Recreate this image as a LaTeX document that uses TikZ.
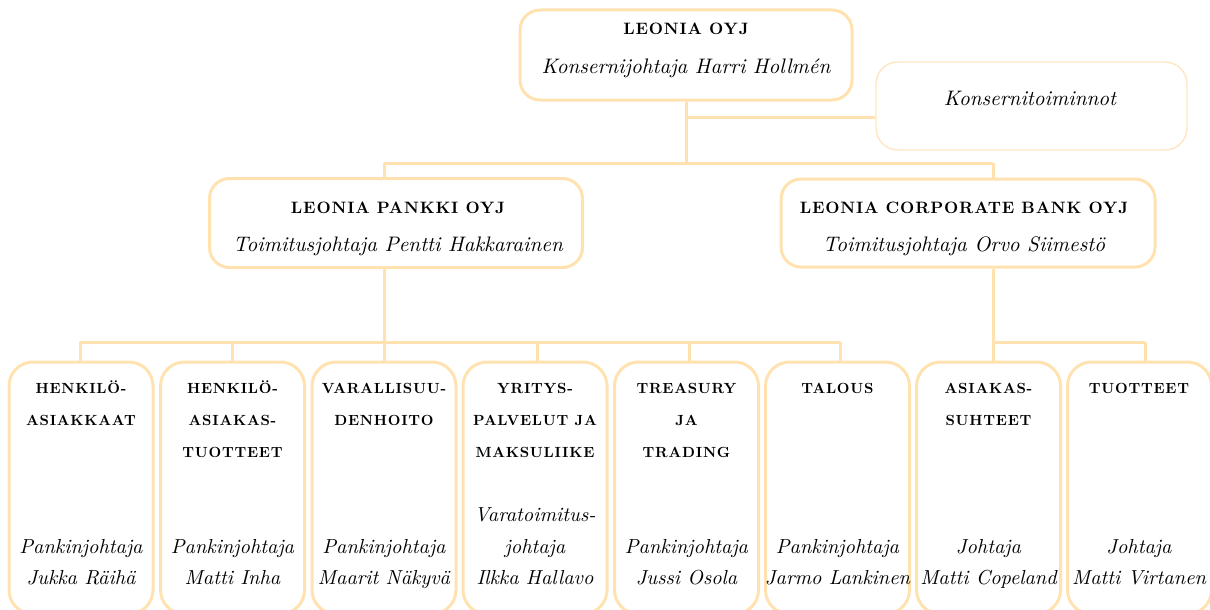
\documentclass[tikz,border=0pt]{standalone}
\usepackage{fontspec}
\setmainfont{lmroman10-regular.otf}[BoldFont=lmroman10-bold.otf,ItalicFont=lmroman10-italic.otf]
\newfontfamily\ttlfont{lmroman10-bold.otf}[LetterSpace=5]
\newfontfamily\nmfont{lmroman10-italic.otf}
\definecolor{peach}{RGB}{255,226,176}
\definecolor{peachlight}{RGB}{255,230,194}
\tikzset{
  conn/.style={draw=peach,line width=3pt},
  topbox/.style={draw=peach,line width=3pt,rounded corners=20pt,inner sep=0pt},
  sidebox/.style={draw=peachlight,line width=1.4pt,rounded corners=22pt,inner sep=0pt},
  botbox/.style={draw=peach,line width=3pt,rounded corners=24pt,inner sep=0pt,minimum width=144pt,minimum height=252pt},
  bigttl/.style={anchor=base,inner sep=0pt,font=\ttlfont\fontsize{16.5}{18}\selectfont},
  bigname/.style={anchor=base,inner sep=0pt,font=\nmfont\fontsize{21}{23}\selectfont},
  ttl/.style={anchor=base,inner sep=0pt,font=\ttlfont\fontsize{14.7}{16}\selectfont},
  nm/.style={anchor=base,inner sep=0pt,font=\nmfont\fontsize{20.3}{22}\selectfont}
}
\begin{document}
\begin{tikzpicture}[x=1pt,y=-1pt]
\useasboundingbox (0,0) rectangle (1210,610);
% top level
\node[topbox,minimum width=332pt,minimum height=90pt] (top) at (686,55) {};
\node[bigttl] (topt) at (686,35) {LEONIA OYJ};
\node[bigname] (topn) at (686,74) {Konsernijohtaja Harri Hollmén};
\node[sidebox,minimum width=311pt,minimum height=88pt] (konz) at (1031.5,106) {};
\node[bigname] (konzn) at (1030,105) {Konsernitoiminnot};
% second level
\node[topbox,minimum width=373pt,minimum height=89pt] (pankki) at (396,223) {};
\node[bigttl] (pankkit) at (398,213) {LEONIA PANKKI OYJ};
\node[bigname] (pankkin) at (398,251) {Toimitusjohtaja Pentti Hakkarainen};
\node[topbox,minimum width=374pt,minimum height=88pt] (corp) at (968,223) {};
\node[bigttl] (corpt) at (964,213) {LEONIA CORPORATE BANK OYJ};
\node[bigname] (corpn) at (964,251) {Toimitusjohtaja Orvo Siimestö};
% bottom level
\node[botbox] (b1) at (81,488) {};
\node[botbox] (b2) at (232.5,488) {};
\node[botbox] (b3) at (384,488) {};
\node[botbox] (b4) at (535,488) {};
\node[botbox] (b5) at (686.5,488) {};
\node[botbox] (b6) at (837.5,488) {};
\node[botbox] (b7) at (988.5,488) {};
\node[botbox] (b8) at (1139.5,488) {};
\node[ttl] (b1t1) at (81,393) {HENKILÖ-};
\node[ttl] (b1t2) at (81,425) {ASIAKKAAT};
\node[nm] (b1n1) at (81,553) {Pankinjohtaja};
\node[nm] (b1n2) at (81,584) {Jukka Räihä};
\node[ttl] (b2t1) at (232.5,393) {HENKILÖ-};
\node[ttl] (b2t2) at (232.5,425) {ASIAKAS-};
\node[ttl] (b2t3) at (232.5,457) {TUOTTEET};
\node[nm] (b2n1) at (232.5,553) {Pankinjohtaja};
\node[nm] (b2n2) at (232.5,584) {Matti Inha};
\node[ttl] (b3t1) at (384,393) {VARALLISUU-};
\node[ttl] (b3t2) at (384,425) {DENHOITO};
\node[nm] (b3n1) at (384,553) {Pankinjohtaja};
\node[nm] (b3n2) at (384,584) {Maarit Näkyvä};
\node[ttl] (b4t1) at (535,393) {YRITYS-};
\node[ttl] (b4t2) at (535,425) {PALVELUT JA};
\node[ttl] (b4t3) at (535,457) {MAKSULIIKE};
\node[nm] (b4n1) at (535,521) {Varatoimitus-};
\node[nm] (b4n2) at (535,553) {johtaja};
\node[nm] (b4n3) at (535,584) {Ilkka Hallavo};
\node[ttl] (b5t1) at (686.5,393) {TREASURY};
\node[ttl] (b5t2) at (686.5,425) {JA};
\node[ttl] (b5t3) at (686.5,457) {TRADING};
\node[nm] (b5n1) at (686.5,553) {Pankinjohtaja};
\node[nm] (b5n2) at (686.5,584) {Jussi Osola};
\node[ttl] (b6t1) at (837.5,393) {TALOUS};
\node[nm] (b6n1) at (837.5,553) {Pankinjohtaja};
\node[nm] (b6n2) at (837.5,584) {Jarmo Lankinen};
\node[ttl] (b7t1) at (988.5,393) {ASIAKAS-};
\node[ttl] (b7t2) at (988.5,425) {SUHTEET};
\node[nm] (b7n1) at (988.5,553) {Johtaja};
\node[nm] (b7n2) at (988.5,584) {Matti Copeland};
\node[ttl] (b8t1) at (1139,393) {TUOTTEET};
\node[nm] (b8n1) at (1139,553) {Johtaja};
\node[nm] (b8n2) at (1139,584) {Matti Virtanen};
% junction coordinates
\coordinate (j0) at (686,163);
\coordinate (jk) at (686,117);
\coordinate (jp) at (384,163);
\coordinate (jc) at (993,163);
\coordinate (kp) at (384,342);
\coordinate (kc) at (993,342);
\coordinate (x1) at (80,342);
\coordinate (x2) at (232,342);
\coordinate (x4) at (537,342);
\coordinate (x5) at (689,342);
\coordinate (x6) at (840,342);
\coordinate (x8) at (1145,342);
% connectors
\draw[conn] (top.south) -- (j0);
\draw[conn] (jk) -- (jk -| konz.west);
\draw[conn] (jp) -- (jc);
\draw[conn] (jp) -- (jp |- pankki.north);
\draw[conn] (jc) -- (jc |- corp.north);
\draw[conn] (kp |- pankki.south) -- (kp);
\draw[conn] (kc |- corp.south) -- (kc);
\draw[conn] (x1) -- (x6);
\draw[conn] (kc) -- (x8);
\draw[conn] (x1) -- (x1 |- b1.north);
\draw[conn] (x2) -- (x2 |- b2.north);
\draw[conn] (kp) -- (kp |- b3.north);
\draw[conn] (x4) -- (x4 |- b4.north);
\draw[conn] (x5) -- (x5 |- b5.north);
\draw[conn] (x6) -- (x6 |- b6.north);
\draw[conn] (kc) -- (kc |- b7.north);
\draw[conn] (x8) -- (x8 |- b8.north);
\end{tikzpicture}
\end{document}
